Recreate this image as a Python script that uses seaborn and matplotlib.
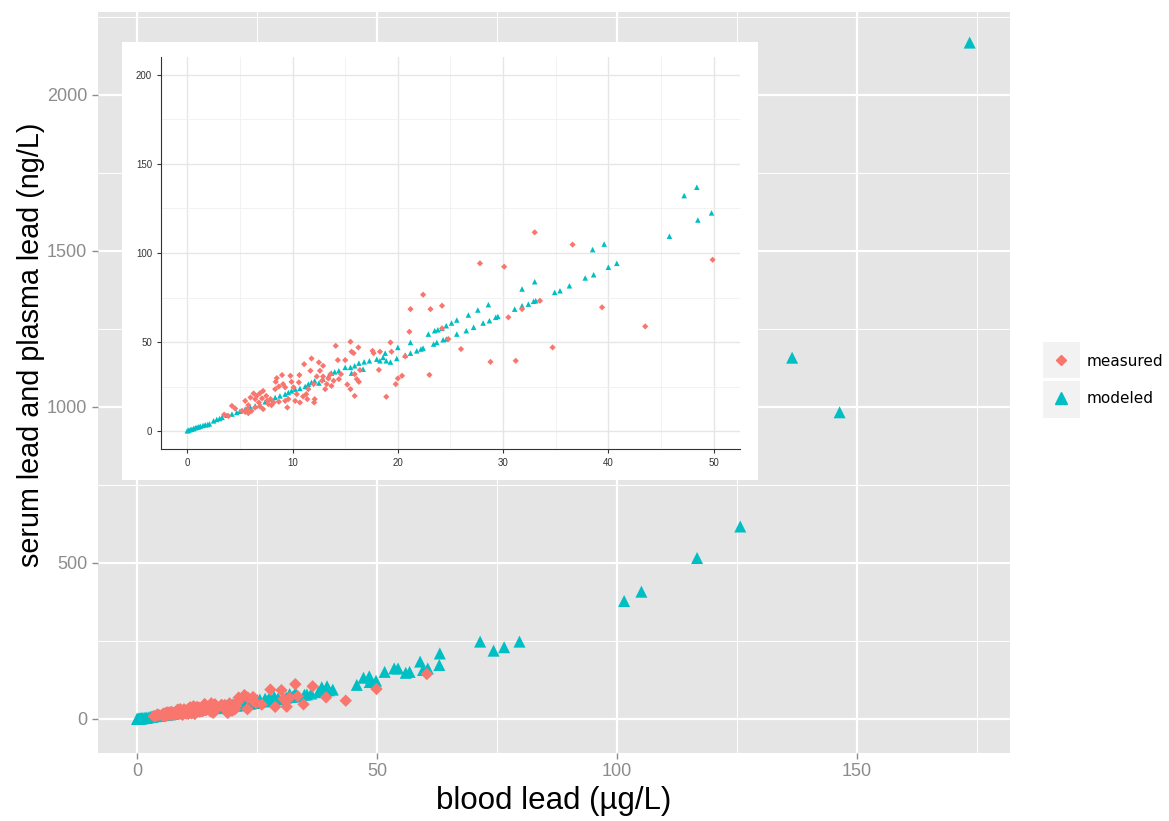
import pandas as pd
import seaborn as sns
import matplotlib.pyplot as plt
from matplotlib.patches import Rectangle
from matplotlib.lines import Line2D
from matplotlib.ticker import MultipleLocator

# blood lead (µg/L), serum/plasma lead (ng/L)
measured = [
    (3.5, 9.3), (3.9, 8.5), (4.24, 14.2), (4.55, 12.7), (5.2, 11.4), (5.5, 10.8), (5.5, 17), (5.7, 12.4),
    (5.8, 14.6), (5.8, 10.1), (6.0, 18.9), (6.1, 11.4), (6.3, 21.2), (6.45, 18), (6.45, 13.3), (6.6, 19.8),
    (6.8, 16.1), (6.9, 21.3), (6.9, 13.9), (7.1, 18.4), (7.2, 22.6), (7.2, 12.4), (7.5, 19.8), (7.6, 17),
    (7.7, 15.2), (7.9, 18), (8.0, 14.6), (8.2, 16.1), (8.35, 23.6), (8.4, 27.7), (8.5, 29.8), (8.7, 25.1),
    (8.7, 16.5), (9.0, 31.5), (9.1, 26.4), (9.3, 24.6), (9.3, 17), (9.5, 13.3), (9.6, 18), (9.8, 31.1),
    (9.9, 27.7), (10.1, 24.6), (10.25, 17), (10.4, 20.8), (10.6, 27.4), (10.65, 31.5), (10.7, 16.1),
    (11.0, 19.5), (11.1, 37.6), (11.3, 20.8), (11.4, 18), (11.5, 23.6), (11.7, 33.9), (11.8, 40.8),
    (12.0, 26.4), (12.05, 16.1), (12.1, 18), (12.3, 30.7), (12.5, 38.6), (12.6, 33.9), (12.8, 28.3),
    (12.9, 36.7), (12.9, 30.7), (13.1, 23.6), (13.25, 26.4), (13.4, 29.6), (13.6, 32), (13.7, 25.4),
    (13.9, 28.3), (14.1, 47.9), (14.3, 39.9), (14.4, 29.2), (14.6, 32), (15.0, 39.9), (15.2, 26.2),
    (15.5, 23.6), (15.5, 50.2), (15.6, 44.6), (15.8, 43.8), (15.9, 32), (15.9, 19.8), (16.1, 29.2),
    (16.25, 47), (16.3, 27.7), (16.4, 34.3), (17.6, 45.1), (17.7, 43.8), (18.2, 34.4), (18.3, 44.6),
    (18.9, 19.3), (19.3, 49.8), (19.4, 44.6), (20.7, 42), (21.1, 55.8), (21.2, 68.5), (22.4, 76.6),
    (23.1, 68.5), (24.2, 70.4), (24.2, 57.7), (24.8, 51.7), (26, 46.1), (27.8, 94.2), (28.8, 38.9),
    (30.1, 92.3), (30.5, 63.9), (31.2, 39.5), (31.8, 68.5), (33, 111.6), (33.5, 73.2), (34.7, 47),
    (36.6, 104.7), (39.4, 69.5), (43.5, 58.8), (49.9, 96.2), (23, 31.6), (20.4, 31.1), (20, 29.6),
    (19.8, 26.4), (60.4, 144),
]
modeled = [
    (0, 0.2), (0.13, 0.56), (0.28, 0.93), (0.44, 1.1), (0.6, 1.5), (0.76, 1.9), (0.92, 2.2), (1.07, 2.4),
    (1.23, 2.8), (1.49, 3.2), (1.7, 3.6), (1.93, 3.7), (2.1, 4.1), (2.5, 5.8), (2.8, 6.6), (3.07, 7.1),
    (3.3, 7.7), (3.77, 9.0), (4.24, 9.6), (4.7, 10.5), (5.0, 11.2), (5.5, 12.4), (6.0, 13.3), (6.45, 14.2),
    (6.9, 15.2), (7.4, 16.5), (7.9, 18), (8.35, 18.9), (8.8, 19.8), (9.3, 20.8), (9.6, 21.7), (9.9, 22.6),
    (10.25, 23.6), (10.7, 24), (11.2, 25.1), (11.5, 26.4), (11.8, 27.4), (12.1, 28.3), (12.5, 27),
    (12.9, 29.2), (13.4, 30.7), (13.7, 32.6), (14.0, 33.3), (14.4, 33.9), (15.0, 35.8), (15.5, 35.8),
    (15.6, 32.6), (15.9, 36.7), (16.3, 38.2), (16.7, 34.8), (16.8, 38.9), (17.3, 39.5), (18.0, 40.4),
    (18.3, 39.5), (18.6, 41.4), (18.8, 43.8), (18.9, 39.5), (19.3, 38.8), (19.9, 40.8), (20.0, 47),
    (20.7, 42.7), (21.2, 43.8), (21.2, 49.8), (21.8, 45.1), (22.2, 46.1), (22.4, 46.6), (22.9, 54.5),
    (23.4, 48.9), (23.7, 49.8), (23.5, 56.4), (23.8, 56.9), (24.3, 51.3), (24.6, 51.7), (24.2, 57.7),
    (24.6, 59.2), (25.1, 60.7), (25.6, 62.4), (25.6, 54.5), (26.5, 56.4), (26.7, 65.2), (27.2, 58.3),
    (27.6, 68), (28.1, 60.7), (28.6, 71), (28.7, 62), (29.3, 63.9), (29.5, 64.4), (31.1, 68.5),
    (31.8, 70.4), (31.8, 79.8), (32.4, 71.3), (32.9, 72.9), (33.1, 73.2), (33, 83.9), (34.9, 77.9),
    (35.4, 78.8), (36.3, 81.6), (37.8, 86), (38.6, 87.8), (38.5, 101.9), (39.6, 105), (40, 92),
    (40.8, 94.2), (45.8, 109.4), (47.2, 132.2), (48.4, 136.9), (48.5, 118.5), (49.8, 122.5),
    (51.6, 151), (53.6, 162), (54.4, 162), (56, 148), (56.8, 151), (59, 184), (59.6, 157), (60.6, 162),
    (63.1, 210), (63, 173), (71.5, 248), (74.3, 219), (76.5, 230), (79.7, 248), (101.5, 378),
    (105.1, 408), (116.7, 516), (125.7, 617), (136.5, 1158), (146.4, 983), (173.5, 2168),
]
groups = ['measured', 'modeled']

# modeled rows first so the measured points sit on top, as in the original
df = pd.DataFrame(modeled + measured, columns=['blood', 'serum'])
df['type'] = [groups[1]] * len(modeled) + [groups[0]] * len(measured)

pal = {'measured': '#F8766D', 'modeled': '#00BFC4'}
marks = {'measured': 'D', 'modeled': '^'}

plt.rcParams['font.family'] = ['Liberation Sans', 'DejaVu Sans']

fig = plt.figure(figsize=(11.69, 8.21), dpi=100)

# main panel (ggplot grey look)
ax = fig.add_axes([0.0835, 0.0832, 0.7809, 0.9022])
ax.set_zorder(0)
sns.scatterplot(data=df, x='blood', y='serum', hue='type', style='type', size='type',
                hue_order=groups, style_order=groups, size_order=groups,
                palette=pal, markers=marks, sizes={'measured': 40, 'modeled': 75},
                linewidth=0, legend=False, ax=ax)
ax.set_facecolor('#E5E5E5')
for sp in ax.spines.values():
    sp.set_visible(False)
ax.set_xlim(-8.2, 182)
ax.set_ylim(-108, 2266)
ax.xaxis.set_major_locator(MultipleLocator(50))
ax.xaxis.set_minor_locator(MultipleLocator(25))
ax.yaxis.set_major_locator(MultipleLocator(500))
ax.yaxis.set_minor_locator(MultipleLocator(250))
ax.set_axisbelow(True)
ax.grid(which='major', color='white', linewidth=1.6)
ax.grid(which='minor', color='white', linewidth=0.7)
ax.tick_params(which='major', length=4, width=1, color='#8C8C8C', labelsize=13, labelcolor='#8C8C8C')
ax.tick_params(which='minor', length=0)
ax.set_xlabel('blood lead (µg/L)', fontsize=22.5)
ax.set_ylabel('serum lead and plasma lead (ng/L)', fontsize=20.7)
ax.xaxis.set_label_coords(0.5, -0.045)
ax.yaxis.set_label_coords(-0.0576, 0.5504)

# white box behind the inset
fig.add_artist(Rectangle((0.1044, 0.4153), 0.544, 0.5335, transform=fig.transFigure,
                         facecolor='white', edgecolor='none', zorder=1))

# inset: zoom on blood lead <= 50
ins = fig.add_axes([0.1377, 0.4531, 0.4953, 0.4775])
ins.set_zorder(2)
sub = df[df['blood'] <= 50]
sns.scatterplot(data=sub, x='blood', y='serum', hue='type', style='type', size='type',
                hue_order=groups, style_order=groups, size_order=groups,
                palette=pal, markers=marks, sizes={'measured': 10, 'modeled': 16},
                linewidth=0, legend=False, ax=ins)
ins.set_facecolor('white')
ins.set_xlim(-2.5, 52.5)
ins.set_ylim(-10, 210)
ins.xaxis.set_major_locator(MultipleLocator(10))
ins.xaxis.set_minor_locator(MultipleLocator(5))
ins.yaxis.set_major_locator(MultipleLocator(50))
ins.yaxis.set_minor_locator(MultipleLocator(25))
ins.set_axisbelow(True)
ins.grid(which='major', color='#E6E6E6', linewidth=1.0)
ins.grid(which='minor', color='#F0F0F0', linewidth=0.6)
ins.spines['top'].set_visible(False)
ins.spines['right'].set_visible(False)
ins.spines['left'].set_color('#333333')
ins.spines['bottom'].set_color('#333333')
ins.tick_params(which='major', length=3, width=0.8, color='#333333', labelsize=7, labelcolor='#333333')
ins.tick_params(which='minor', length=0)
ins.set_xlabel('')
ins.set_ylabel('')

# legend with grey key boxes
for yb, hb in [(0.5396, 0.0438), (0.4909, 0.0451)]:
    fig.add_artist(Rectangle((0.8922, yb), 0.0317, hb, transform=fig.transFigure,
                             facecolor='#F2F2F2', edgecolor='none', zorder=1))
handles = [Line2D([], [], linestyle='none', marker=marks[g], color=pal[g],
                  markersize=5 if g == 'measured' else 8) for g in groups]
leg = fig.legend(handles, groups, loc='center left', bbox_to_anchor=(0.8922, 0.5372),
                 frameon=False, prop={'family': 'DejaVu Sans', 'size': 11},
                 handlelength=2.4, handletextpad=0.45, labelspacing=1.5,
                 borderpad=0, borderaxespad=0)
leg.set_zorder(3)

fig.savefig('out.png', dpi=100)
